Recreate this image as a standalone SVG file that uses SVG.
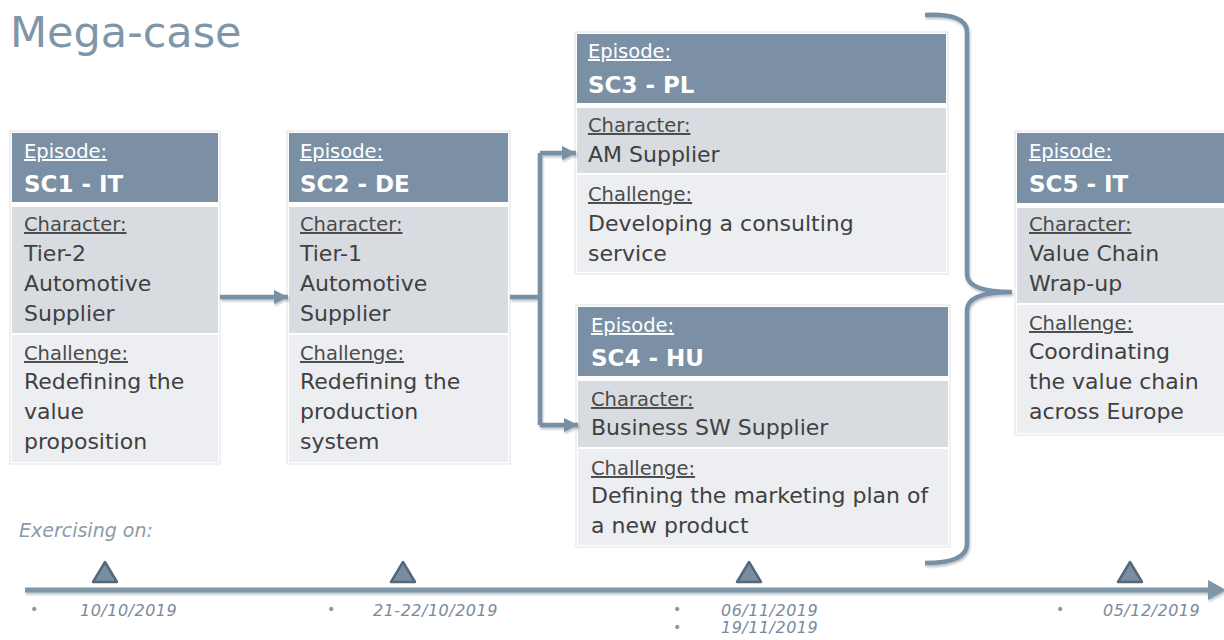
<svg xmlns="http://www.w3.org/2000/svg" width="1224" height="640" viewBox="0 0 1224 640">
<style>
text{font-family:"DejaVu Sans","Liberation Sans",sans-serif}
.outer{fill:#ffffff;stroke:#dde1e5;stroke-width:1}
.hdr{fill:#7b90a4}
.chr{fill:#d8dce1}
.chl{fill:#eceef1}
.ep{fill:#ffffff;font-size:19.5px;text-decoration:underline}
.sc{fill:#ffffff;font-size:23px;font-weight:bold}
.lbl{fill:#4a4a4a;font-size:19.5px;text-decoration:underline}
.body{fill:#404040;font-size:22px}
.conn{fill:none;stroke:#7890a5;stroke-width:4.5}
.date{fill:#7a8a9a;font-size:16px;font-style:italic;letter-spacing:0.5px}
.bul{fill:#8a98a6;font-size:14px}
.tri{fill:#7a8ea3;stroke:#55677a;stroke-width:2.5;stroke-linejoin:round}
</style>
<defs>
<marker id="ah" markerUnits="userSpaceOnUse" markerWidth="16" markerHeight="16" refX="15" refY="8" orient="auto">
<path d="M1,1 L15,8 L1,15 Z" fill="#7890a5"/>
</marker>
<filter id="sh" x="-5%" y="-50%" width="110%" height="200%">
<feDropShadow dx="1" dy="2" stdDeviation="1" flood-color="#3a4652" flood-opacity="0.35"/>
</filter>
</defs>

<text x="10" y="47" style="font-size:43px;fill:#7f95a8">Mega-case</text>

<g id="sc1">
<rect class="outer" x="10" y="131" width="210" height="333"/>
<rect class="hdr" x="12" y="133" width="206" height="69"/>
<rect class="chr" x="12" y="207" width="206" height="126"/>
<rect class="chl" x="12" y="335" width="206" height="127"/>
<text class="ep" x="24" y="158">Episode:</text>
<text class="sc" x="24" y="192">SC1 - IT</text>
<text class="lbl" x="24" y="231">Character:</text>
<text class="body" x="24" y="261">Tier-2</text>
<text class="body" x="24" y="291">Automotive</text>
<text class="body" x="24" y="321">Supplier</text>
<text class="lbl" x="24" y="360">Challenge:</text>
<text class="body" x="24" y="389">Redefining the</text>
<text class="body" x="24" y="419">value</text>
<text class="body" x="24" y="449">proposition</text>
</g>

<g id="sc2">
<rect class="outer" x="287" y="131" width="223" height="333"/>
<rect class="hdr" x="289" y="133" width="219" height="69"/>
<rect class="chr" x="289" y="207" width="219" height="126"/>
<rect class="chl" x="289" y="335" width="219" height="127"/>
<text class="ep" x="300" y="158">Episode:</text>
<text class="sc" x="300" y="192">SC2 - DE</text>
<text class="lbl" x="300" y="231">Character:</text>
<text class="body" x="300" y="261">Tier-1</text>
<text class="body" x="300" y="291">Automotive</text>
<text class="body" x="300" y="321">Supplier</text>
<text class="lbl" x="300" y="360">Challenge:</text>
<text class="body" x="300" y="389">Redefining the</text>
<text class="body" x="300" y="419">production</text>
<text class="body" x="300" y="449">system</text>
</g>

<g id="sc3">
<rect class="outer" x="575" y="32" width="373" height="242"/>
<rect class="hdr" x="577" y="34" width="369" height="69"/>
<rect class="chr" x="577" y="108" width="369" height="65"/>
<rect class="chl" x="577" y="175" width="369" height="97"/>
<text class="ep" x="588" y="58">Episode:</text>
<text class="sc" x="588" y="93">SC3 - PL</text>
<text class="lbl" x="588" y="132">Character:</text>
<text class="body" x="588" y="162">AM Supplier</text>
<text class="lbl" x="588" y="201">Challenge:</text>
<text class="body" x="588" y="231">Developing a consulting</text>
<text class="body" x="588" y="261">service</text>
</g>

<g id="sc4">
<rect class="outer" x="576" y="305" width="374" height="242"/>
<rect class="hdr" x="578" y="307" width="370" height="69"/>
<rect class="chr" x="578" y="381" width="370" height="66"/>
<rect class="chl" x="578" y="449" width="370" height="96"/>
<text class="ep" x="591" y="332">Episode:</text>
<text class="sc" x="591" y="366">SC4 - HU</text>
<text class="lbl" x="591" y="406">Character:</text>
<text class="body" x="591" y="435">Business SW Supplier</text>
<text class="lbl" x="591" y="475">Challenge:</text>
<text class="body" x="591" y="503">Defining the marketing plan of</text>
<text class="body" x="591" y="533">a new product</text>
</g>

<g id="sc5">
<rect class="outer" x="1015" y="131" width="210" height="304"/>
<rect class="hdr" x="1017" y="133" width="207" height="70"/>
<rect class="chr" x="1017" y="208" width="207" height="95"/>
<rect class="chl" x="1017" y="305" width="207" height="128"/>
<text class="ep" x="1029" y="158">Episode:</text>
<text class="sc" x="1029" y="192">SC5 - IT</text>
<text class="lbl" x="1029" y="231">Character:</text>
<text class="body" x="1029" y="261">Value Chain</text>
<text class="body" x="1029" y="291">Wrap-up</text>
<text class="lbl" x="1029" y="330">Challenge:</text>
<text class="body" x="1029" y="359">Coordinating</text>
<text class="body" x="1029" y="389">the value chain</text>
<text class="body" x="1029" y="419">across Europe</text>
</g>

<g id="connectors" filter="url(#sh)">
<path class="conn" d="M220 297 L288 297" marker-end="url(#ah)"/>
<path class="conn" d="M510 297 L540 297"/>
<path class="conn" d="M540 153 L540 425"/>
<path class="conn" d="M540 153 L576 153" marker-end="url(#ah)"/>
<path class="conn" d="M540 425 L578 425" marker-end="url(#ah)"/>
<path class="conn" d="M925 15 Q967 13 967 32 L967 274 Q967 292 1012 292 Q967 292 967 310 L967 544 Q967 563 925 563"/>
</g>

<g id="timeline">
<text x="19" y="537" style="font-size:19px;font-style:italic;fill:#8a9bab">Exercising on:</text>
<g filter="url(#sh)">
<line x1="25" y1="590" x2="1212" y2="590" stroke="#7f95a8" stroke-width="5"/>
<polygon points="1208,580 1226,590 1208,600" fill="#7f95a8"/>
</g>
<polygon class="tri" points="105,562 117,582 93,582"/>
<polygon class="tri" points="403,562 415,582 391,582"/>
<polygon class="tri" points="749,562 761,582 737,582"/>
<polygon class="tri" points="1130,562 1142,582 1118,582"/>
<text class="bul" x="30" y="614">•</text>
<text class="date" x="80" y="616">10/10/2019</text>
<text class="bul" x="327" y="614">•</text>
<text class="date" x="373" y="616">21-22/10/2019</text>
<text class="bul" x="673" y="614">•</text>
<text class="date" x="721" y="616">06/11/2019</text>
<text class="bul" x="673" y="632">•</text>
<text class="date" x="721" y="633">19/11/2019</text>
<text class="bul" x="1056" y="614">•</text>
<text class="date" x="1103" y="616">05/12/2019</text>
</g>
</svg>
